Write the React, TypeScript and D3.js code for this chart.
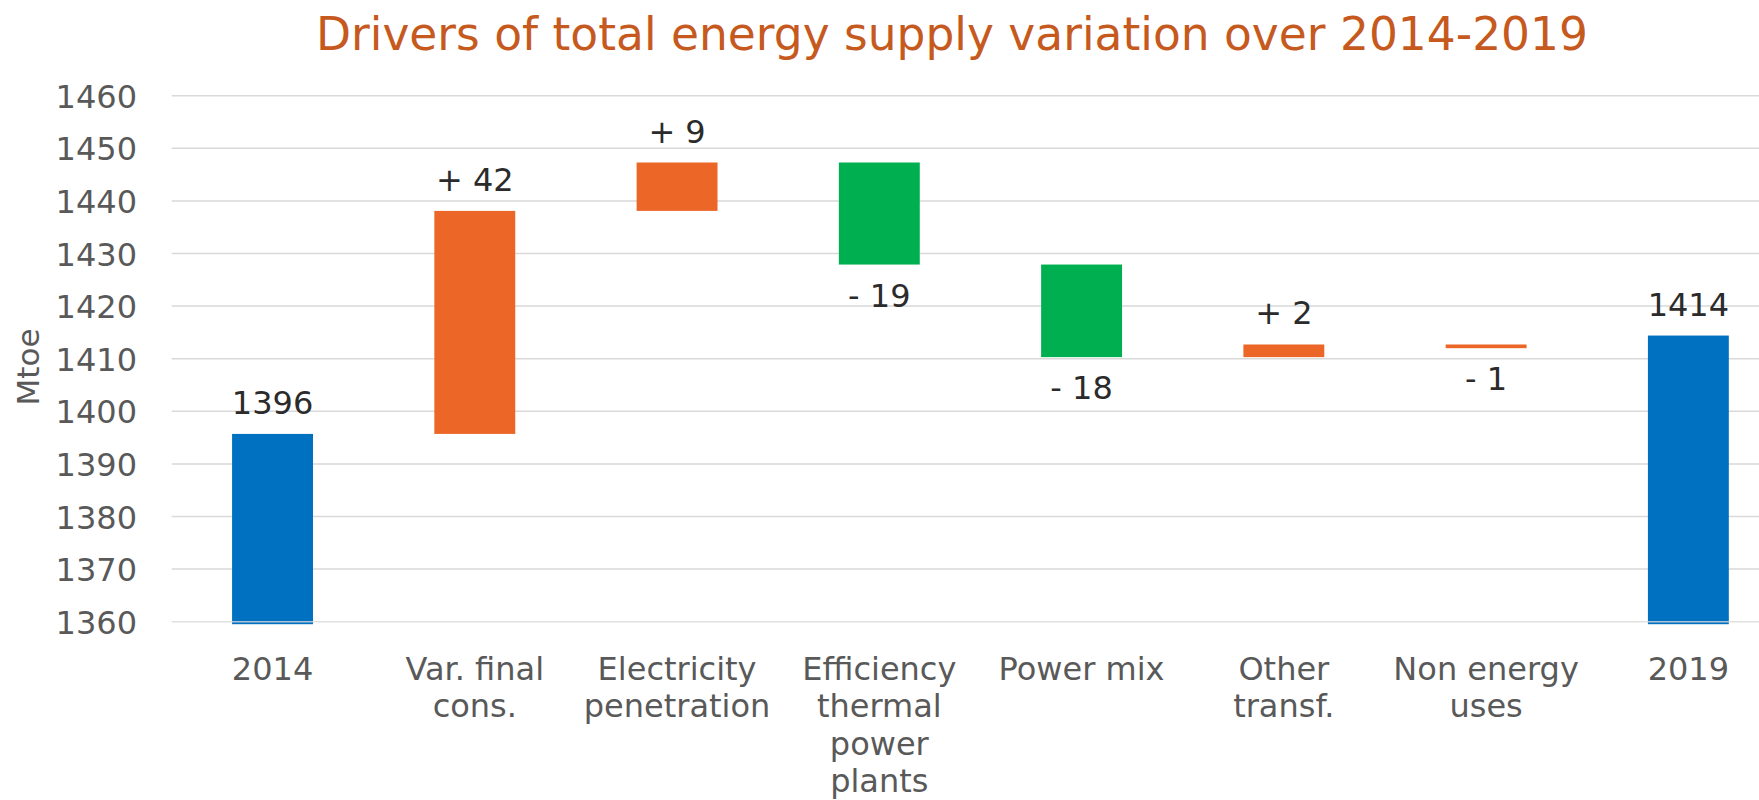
import React, { useEffect, useRef } from "react";
import * as d3 from "d3";

// chart data
const categories = [
  "2014",
  "Var. final cons.",
  "Electricity penetration",
  "Efficiency thermal power plants",
  "Power mix",
  "Other transf.",
  "Non energy uses",
  "2019",
];

const categoryLines = [
  ["2014"],
  ["Var. final", "cons."],
  ["Electricity", "penetration"],
  ["Efficiency", "thermal", "power", "plants"],
  ["Power mix"],
  ["Other", "transf."],
  ["Non energy", "uses"],
  ["2019"],
];

const barKinds = ["total", "step", "step", "step", "step", "step", "step", "total"];
// colour group of each bar: consumption side (orange) or transformation efficiency (green)
const barGroups = ["total", "use", "use", "transfo", "transfo", "use", "use", "total"];
const barValues = [1395.7, 42.4, 9.2, -19.4, -17.6, 2.4, -0.7, 1414.4];

const yTicks = [1360, 1370, 1380, 1390, 1400, 1410, 1420, 1430, 1440, 1450, 1460];

const title = "Drivers of total energy supply variation over 2014-2019";
const yLabel = "Mtoe";

const WIDTH = 1759;
const HEIGHT = 800;

const colors = {
  total: "#0070C0",
  use: "#EC6727",
  transfo: "#00B050",
  grid: "#D9D9D9",
  axisText: "#595959",
  labelText: "#2B2B2B",
  title: "#C65A1E",
};

const WaterfallChart = () => {
  const svgRef = useRef(null);

  useEffect(() => {
    const svg = d3.select(svgRef.current);
    svg.selectAll("*").remove();

    const font = "'DejaVu Sans', Verdana, sans-serif";

    // build start/end for each bar
    let running = 0;
    const bars = categories.map((cat, i) => {
      const v = barValues[i];
      let start, end;
      if (barKinds[i] === "total") {
        start = yTicks[0];
        end = v;
        running = v;
      } else {
        start = running;
        end = running + v;
        running = end;
      }
      return { cat, i, v, start, end, kind: barKinds[i], group: barGroups[i] };
    });

    const x = d3
      .scaleBand()
      .domain(categories)
      .range([171.4, 1789.5])
      .paddingInner(0.6)
      .paddingOuter(0.3);

    const y = d3
      .scaleLinear()
      .domain([yTicks[0], yTicks[yTicks.length - 1]])
      .range([621.7, 95.7]);

    // gridlines
    svg
      .append("g")
      .selectAll("line")
      .data(yTicks.slice(1))
      .enter()
      .append("line")
      .attr("x1", 171.7)
      .attr("x2", WIDTH)
      .attr("y1", (d) => y(d))
      .attr("y2", (d) => y(d))
      .attr("stroke", colors.grid)
      .attr("stroke-width", 1.5);

    // y tick labels
    svg
      .append("g")
      .selectAll("text")
      .data(yTicks)
      .enter()
      .append("text")
      .attr("x", 137)
      .attr("y", (d) => y(d) + 12)
      .attr("text-anchor", "end")
      .style("font-family", font)
      .style("font-size", "32px")
      .attr("fill", colors.axisText)
      .text((d) => d);

    // bars
    svg
      .append("g")
      .selectAll("rect")
      .data(bars)
      .enter()
      .append("rect")
      .attr("x", (d) => x(d.cat))
      .attr("width", x.bandwidth())
      .attr("y", (d) => y(Math.max(d.start, d.end)))
      .attr("height", (d) => {
        const h = Math.abs(y(d.start) - y(d.end));
        return d.kind === "total" ? h + 2.5 : h;
      })
      .attr("fill", (d) => colors[d.group]);

    // baseline drawn over the total bars
    svg
      .append("line")
      .attr("x1", 171.7)
      .attr("x2", WIDTH)
      .attr("y1", y(yTicks[0]))
      .attr("y2", y(yTicks[0]))
      .attr("stroke", colors.grid)
      .attr("stroke-opacity", 0.8)
      .attr("stroke-width", 1.5);

    // value labels
    svg
      .append("g")
      .selectAll("text")
      .data(bars)
      .enter()
      .append("text")
      .attr("x", (d) => x(d.cat) + x.bandwidth() / 2)
      .attr("y", (d) =>
        d.kind !== "total" && d.v < 0
          ? y(Math.min(d.start, d.end)) + 42
          : y(Math.max(d.start, d.end)) - 20
      )
      .attr("text-anchor", "middle")
      .style("font-family", font)
      .style("font-size", "32px")
      .attr("fill", colors.labelText)
      .text((d) => {
        if (d.kind === "total") return Math.round(d.v);
        const r = Math.round(Math.abs(d.v));
        return (d.v >= 0 ? "+ " : "- ") + r;
      });

    // category labels
    const catG = svg.append("g");
    bars.forEach((d) => {
      const t = catG
        .append("text")
        .attr("text-anchor", "middle")
        .style("font-family", font)
        .style("font-size", "32px")
        .attr("fill", colors.axisText);
      categoryLines[d.i].forEach((line, k) => {
        t.append("tspan")
          .attr("x", x(d.cat) + x.bandwidth() / 2)
          .attr("y", 680 + k * 37.3)
          .text(line);
      });
    });

    // y axis title
    svg
      .append("text")
      .attr("transform", "translate(39, 367) rotate(-90)")
      .attr("text-anchor", "middle")
      .style("font-family", font)
      .style("font-size", "31px")
      .attr("fill", colors.axisText)
      .text(yLabel);

    // title
    svg
      .append("text")
      .attr("x", 952)
      .attr("y", 50)
      .attr("text-anchor", "middle")
      .style("font-family", font)
      .style("font-size", "45.5px")
      .attr("fill", colors.title)
      .text(title);
  }, []);

  return (
    <svg
      ref={svgRef}
      width={WIDTH}
      height={HEIGHT}
      style={{ position: "absolute", left: 0, top: 0, background: "#fff" }}
    ></svg>
  );
};

export default function App() {
  return <WaterfallChart />;
}
